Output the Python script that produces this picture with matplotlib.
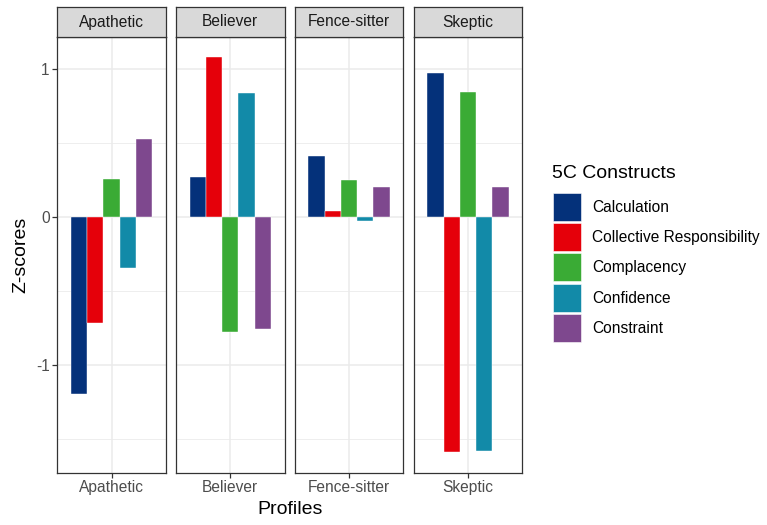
import numpy as np
import matplotlib
matplotlib.use("Agg")
import matplotlib.pyplot as plt
from matplotlib.patches import Rectangle

plt.rcParams['font.family'] = ['Liberation Sans', 'DejaVu Sans']

# data
profiles = ['Apathetic', 'Believer', 'Fence-sitter', 'Skeptic']
constructs = ['Calculation', 'Collective Responsibility', 'Complacency',
              'Confidence', 'Constraint']
colors = ['#04317A', '#E5000A', '#3AAB35', '#128AA8', '#7E488E']

calculation = [-1.196, 0.268, 0.412, 0.971]
collective = [-0.718, 1.083, 0.043, -1.586]
complacency = [0.259, -0.775, 0.248, 0.842]
confidence = [-0.347, 0.836, -0.027, -1.581]
constraint = [0.527, -0.759, 0.205, 0.200]
series = [calculation, collective, complacency, confidence, constraint]

W, H = 767, 525
fig = plt.figure(figsize=(W / 100, H / 100), dpi=100)

panel_x = [57.3, 176.0, 294.7, 413.7]
pw = 108.5
p_top, p_bot = 36.7, 472.7
s_top = 7.3

bw = 0.18
for j, prof in enumerate(profiles):
    x0 = panel_x[j]
    ax = fig.add_axes([x0 / W, 1 - p_bot / H, pw / W, (p_bot - p_top) / H])
    ax.set_xlim(0.4, 1.6)
    ax.set_ylim(-1.728, 1.218)
    ax.set_yticks([-1, 0, 1])
    ax.set_yticks([-1.5, -0.5, 0.5], minor=True)
    ax.set_xticks([1])
    ax.set_xticklabels([prof])
    ax.grid(True, which='major', color='#EBEBEB', lw=1.1, zorder=0)
    ax.grid(True, which='minor', axis='y', color='#EBEBEB', lw=0.6, zorder=0)
    ax.set_axisbelow(True)
    for i, vals in enumerate(series):
        ax.bar(1 + (i - 2) * bw, vals[j], width=bw, color=colors[i],
               edgecolor='white', linewidth=0.3, zorder=2)
    for sp in ax.spines.values():
        sp.set_color('#333333')
        sp.set_linewidth(0.9)
    ax.tick_params(axis='both', which='major', length=3.5, width=0.9,
                   color='#333333', labelsize=11.2, labelcolor='#4D4D4D', pad=2)
    ax.tick_params(axis='y', which='minor', length=0)
    if j == 0:
        ax.set_yticklabels(['-1', '0', '1'])
        ax.set_ylabel('Z-scores', fontsize=14, labelpad=5)
    else:
        ax.tick_params(axis='y', which='major', length=0, labelleft=False)

    # facet strip
    sax = fig.add_axes([x0 / W, 1 - p_top / H, pw / W, (p_top - s_top) / H])
    sax.set_facecolor('#D9D9D9')
    sax.set_xticks([])
    sax.set_yticks([])
    for sp in sax.spines.values():
        sp.set_color('#333333')
        sp.set_linewidth(0.9)
    sax.text(0.5, 0.5, prof, ha='center', va='center', fontsize=11.2,
             color='#1A1A1A', transform=sax.transAxes)

fig.text((panel_x[0] + panel_x[3] + pw) / 2 / W, 1 - 510 / H, 'Profiles',
         ha='center', va='center', fontsize=14)

# legend, laid out in pixel units
lax = fig.add_axes([0, 0, 1, 1])
lax.set_xlim(0, W)
lax.set_ylim(H, 0)
lax.axis('off')
lax.text(552, 174, '5C Constructs', fontsize=14, ha='left', va='center')
for i, name in enumerate(constructs):
    y = 192.7 + i * 30.3
    lax.add_patch(Rectangle((553, y), 28, 28, facecolor=colors[i],
                            edgecolor='white', linewidth=0.4))
    lax.text(592, y + 14.5, name, fontsize=11.2, ha='left', va='center')

fig.savefig('out.png', dpi=100)
